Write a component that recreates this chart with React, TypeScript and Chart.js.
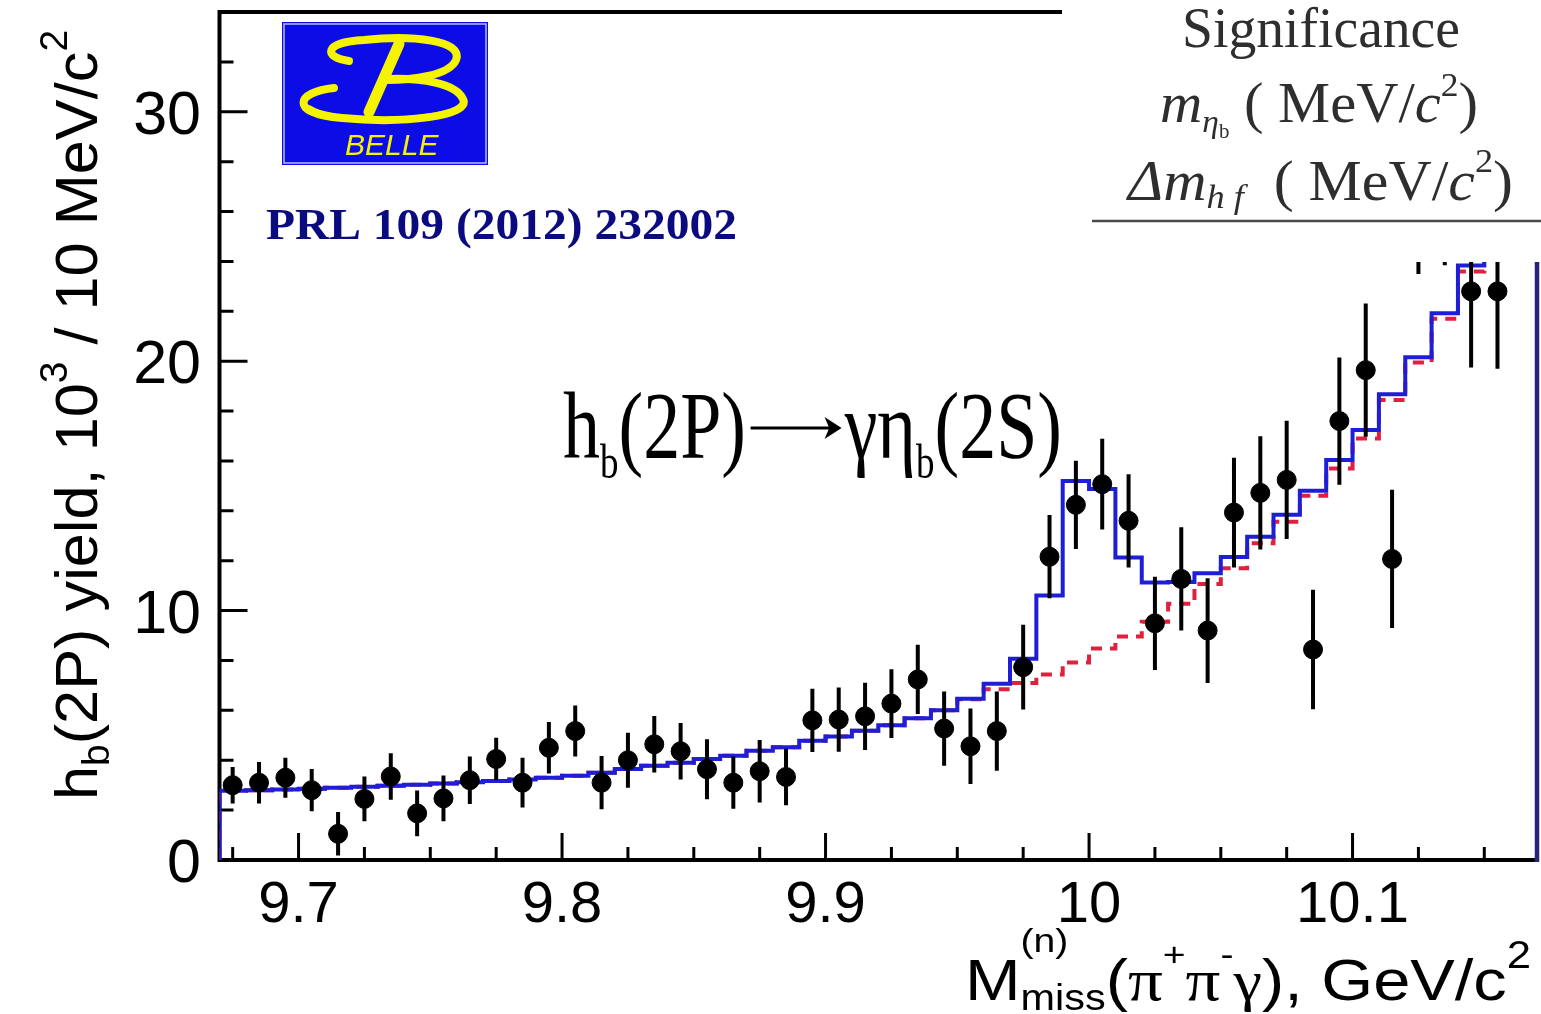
import React, { useEffect, useRef } from "react";
import { Chart, registerables } from "chart.js";

Chart.register(...registerables);

// ---------------- data ----------------
const binCenters = [
  9.675, 9.685, 9.695, 9.705, 9.715, 9.725, 9.735, 9.745, 9.755, 9.765,
  9.775, 9.785, 9.795, 9.805, 9.815, 9.825, 9.835, 9.845, 9.855, 9.865,
  9.875, 9.885, 9.895, 9.905, 9.915, 9.925, 9.935, 9.945, 9.955, 9.965,
  9.975, 9.985, 9.995, 10.005, 10.015, 10.025, 10.035, 10.045, 10.055, 10.065,
  10.075, 10.085, 10.095, 10.105, 10.115, 10.125, 10.135, 10.145, 10.155, 10.165,
];
const binWidth = 0.01;

const fitTotal = [
  2.78, 2.8, 2.83, 2.86, 2.9, 2.94, 2.98, 3.02, 3.07, 3.12,
  3.17, 3.23, 3.3, 3.38, 3.5, 3.65, 3.78, 3.9, 4.05, 4.18,
  4.38, 4.52, 4.78, 4.95, 5.18, 5.4, 5.68, 6.0, 6.47, 7.07,
  8.07, 10.6, 15.2, 14.87, 12.13, 11.13, 11.15, 11.5, 12.15, 12.96,
  13.84, 14.8, 16.04, 17.24, 18.67, 20.16, 21.92, 23.84, 25.6, 27.5,
];

const fitBackground = [
  2.78, 2.8, 2.83, 2.86, 2.9, 2.94, 2.98, 3.02, 3.07, 3.12,
  3.17, 3.23, 3.3, 3.38, 3.5, 3.65, 3.78, 3.9, 4.05, 4.18,
  4.38, 4.52, 4.78, 4.95, 5.18, 5.4, 5.68, 6.0, 6.45, 6.85,
  7.1, 7.44, 7.92, 8.48, 8.96, 9.55, 10.27, 11.07, 11.7, 12.7,
  13.56, 14.6, 15.7, 16.9, 18.44, 19.95, 21.7, 23.6, 25.4, 27.3,
];

const dataBins = [
  9.675, 9.685, 9.695, 9.705, 9.715, 9.725, 9.735, 9.745, 9.755, 9.765,
  9.775, 9.785, 9.795, 9.805, 9.815, 9.825, 9.835, 9.845, 9.855, 9.865,
  9.875, 9.885, 9.895, 9.905, 9.915, 9.925, 9.935, 9.945, 9.955, 9.965,
  9.975, 9.985, 9.995, 10.005, 10.015, 10.025, 10.035, 10.045, 10.055, 10.065,
  10.075, 10.085, 10.095, 10.105, 10.115, 10.125, 10.135, 10.145, 10.155,
];
const dataYield = [
  3.0, 3.1, 3.3, 2.8, 1.05, 2.45, 3.35, 1.87, 2.47, 3.2,
  4.05, 3.1, 4.5, 5.17, 3.1, 4.0, 4.64, 4.36, 3.64, 3.1,
  3.56, 3.33, 5.6, 5.63, 5.76, 6.27, 7.24, 5.27, 4.56, 5.17,
  7.73, 12.16, 14.24, 15.07, 13.6, 9.49, 11.27, 9.2, 13.93, 14.72,
  15.24, 8.44, 17.6, 19.64, 12.07, 26.4, 26.8, 22.8, 22.8,
];
const dataError = [
  0.73, 0.83, 0.8, 0.85, 0.87, 0.9, 0.93, 0.92, 0.92, 0.95,
  0.85, 1.0, 1.03, 1.02, 1.07, 1.1, 1.13, 1.13, 1.2, 1.05,
  1.25, 1.13, 1.27, 1.29, 1.35, 1.38, 1.39, 1.49, 1.51, 1.59,
  1.7, 1.67, 1.77, 1.82, 1.87, 1.87, 2.07, 2.1, 2.2, 2.27,
  2.37, 2.4, 2.55, 2.67, 2.77, 2.9, 2.95, 3.05, 3.1,
];

const xTickValues = [9.7, 9.8, 9.9, 10.0, 10.1];
const xTickLabels = ["9.7", "9.8", "9.9", "10", "10.1"];
const yTickValues = [0, 10, 20, 30];
const yTickLabels = ["0", "10", "20", "30"];
const xMinorStep = 0.025;
const yMinorStep = 2;
const xRange = [9.67, 10.17];
const yRange = [0, 34];

// ---------------- helpers ----------------
const SANS = '"Liberation Sans", Arial, Helvetica, sans-serif';
const SERIF = '"Liberation Serif", "Times New Roman", "DejaVu Serif", serif';

type Seg = {
  t?: string;
  size?: number;
  dy?: number;
  family?: string;
  style?: string;
  weight?: string;
  stack?: Seg[];
  arrow?: number;
};

function segFont(s: Seg) {
  return `${s.style || "normal"} ${s.weight || "normal"} ${s.size || 20}px ${s.family || SANS}`;
}

function segWidth(ctx: CanvasRenderingContext2D, s: Seg): number {
  if (s.arrow) return s.arrow;
  if (s.stack) {
    let m = 0;
    for (const ss of s.stack) m = Math.max(m, segWidth(ctx, ss));
    return m;
  }
  ctx.font = segFont(s);
  return ctx.measureText(s.t || "").width;
}

function drawRich(
  ctx: CanvasRenderingContext2D,
  segs: Seg[],
  x: number,
  y: number,
  align: "left" | "center" | "right",
  fitWidth: number | null,
  color: string
) {
  let w = 0;
  for (const s of segs) w += segWidth(ctx, s);
  const sx = fitWidth ? fitWidth / w : 1;
  const total = w * sx;
  const x0 = align === "left" ? x : align === "center" ? x - total / 2 : x - total;
  ctx.save();
  ctx.translate(x0, y);
  ctx.scale(sx, 1);
  ctx.textAlign = "left";
  ctx.textBaseline = "alphabetic";
  ctx.fillStyle = color;
  ctx.strokeStyle = color;
  let cx = 0;
  for (const s of segs) {
    if (s.arrow) {
      const ay = s.dy || 0;
      const aw = s.arrow;
      ctx.lineWidth = 3.2;
      ctx.beginPath();
      ctx.moveTo(cx + 6, ay);
      ctx.lineTo(cx + aw - 8, ay);
      ctx.stroke();
      ctx.beginPath();
      ctx.moveTo(cx + aw - 4, ay);
      ctx.lineTo(cx + aw - 26, ay - 11);
      ctx.lineTo(cx + aw - 20, ay);
      ctx.lineTo(cx + aw - 26, ay + 11);
      ctx.closePath();
      ctx.fill();
      cx += aw;
    } else if (s.stack) {
      let m = 0;
      for (const ss of s.stack) {
        ctx.font = segFont(ss);
        ctx.fillText(ss.t || "", cx, ss.dy || 0);
        m = Math.max(m, ctx.measureText(ss.t || "").width);
      }
      cx += m;
    } else {
      ctx.font = segFont(s);
      ctx.fillText(s.t || "", cx, s.dy || 0);
      cx += ctx.measureText(s.t || "").width;
    }
  }
  ctx.restore();
}

function histSteps(centers: number[], values: number[]) {
  const pts: { x: number; y: number }[] = [];
  pts.push({ x: centers[0] - binWidth / 2, y: 0 });
  centers.forEach((c, i) => pts.push({ x: c - binWidth / 2, y: values[i] }));
  pts.push({ x: centers[centers.length - 1] + binWidth / 2, y: 0 });
  return pts;
}

function drawLogo(ctx: CanvasRenderingContext2D) {
  ctx.save();
  ctx.fillStyle = "#0c0ce6";
  ctx.fillRect(282, 22, 206, 143);
  ctx.strokeStyle = "#b8bcff";
  ctx.lineWidth = 1.5;
  ctx.strokeRect(284, 24, 202, 139);
  ctx.strokeStyle = "#f4f400";
  ctx.fillStyle = "#f4f400";
  ctx.lineCap = "round";
  ctx.lineJoin = "round";
  // upper bowl
  ctx.lineWidth = 8;
  ctx.beginPath();
  ctx.moveTo(349, 61);
  ctx.bezierCurveTo(324, 58, 322, 42, 364, 40);
  ctx.bezierCurveTo(412, 35, 464, 40, 456, 60);
  ctx.bezierCurveTo(449, 76, 412, 80, 386, 80);
  ctx.stroke();
  // stem
  ctx.lineWidth = 11;
  ctx.beginPath();
  ctx.moveTo(399, 44);
  ctx.lineTo(369, 112);
  ctx.stroke();
  // lower swoosh
  ctx.lineWidth = 8;
  ctx.beginPath();
  ctx.moveTo(334, 88);
  ctx.bezierCurveTo(296, 92, 288, 113, 342, 118);
  ctx.bezierCurveTo(404, 124, 472, 116, 463, 99);
  ctx.bezierCurveTo(456, 83, 420, 78, 390, 79);
  ctx.stroke();
  ctx.lineWidth = 5;
  ctx.beginPath();
  ctx.moveTo(310, 108);
  ctx.bezierCurveTo(330, 121, 400, 124, 450, 112);
  ctx.stroke();
  ctx.font = `italic normal 30px ${SANS}`;
  ctx.textAlign = "left";
  ctx.textBaseline = "alphabetic";
  ctx.fillText("BELLE", 345, 155);
  ctx.restore();
}

const decorPlugin = {
  id: "decor",
  beforeDatasetsDraw(chart: any) {
    const ctx: CanvasRenderingContext2D = chart.ctx;
    const xs = chart.scales.x;
    const ys = chart.scales.y;
    const L = xs.getPixelForValue(xRange[0]);
    const R = xs.getPixelForValue(xRange[1]);
    const T = ys.getPixelForValue(yRange[1]);
    const B = ys.getPixelForValue(yRange[0]);
    ctx.save();
    ctx.strokeStyle = "#000";
    ctx.lineWidth = 4;
    ctx.beginPath();
    ctx.moveTo(L, B);
    ctx.lineTo(L, T);
    ctx.lineTo(R, T);
    ctx.moveTo(L - 2, B);
    ctx.lineTo(R + 2, B);
    ctx.stroke();
    // inward ticks
    ctx.lineWidth = 3;
    ctx.beginPath();
    for (let v = 9.675; v < xRange[1] - 1e-9; v += xMinorStep) {
      const major = xTickValues.some((t) => Math.abs(t - v) < 1e-6);
      const px = xs.getPixelForValue(v);
      ctx.moveTo(px, B);
      ctx.lineTo(px, B - (major ? 27 : 13));
    }
    for (let v = yRange[0] + yMinorStep; v < yRange[1] - 1e-9; v += yMinorStep) {
      const major = yTickValues.some((t) => Math.abs(t - v) < 1e-6);
      const py = ys.getPixelForValue(v);
      ctx.moveTo(L, py);
      ctx.lineTo(L + (major ? 28 : 14), py);
    }
    ctx.stroke();
    ctx.restore();
  },
  afterDatasetsDraw(chart: any) {
    const ctx: CanvasRenderingContext2D = chart.ctx;
    const xs = chart.scales.x;
    const ys = chart.scales.y;
    ctx.save();
    ctx.strokeStyle = "#000";
    ctx.lineWidth = 4;
    ctx.beginPath();
    dataBins.forEach((b, i) => {
      const px = xs.getPixelForValue(b);
      ctx.moveTo(px, ys.getPixelForValue(dataYield[i] - dataError[i]));
      ctx.lineTo(px, ys.getPixelForValue(dataYield[i] + dataError[i]));
    });
    ctx.stroke();
    // white table box covering the top-right corner
    ctx.fillStyle = "#fff";
    ctx.fillRect(1062, 0, chart.width - 1062, 262);
    // right edge
    const R = xs.getPixelForValue(xRange[1]);
    ctx.strokeStyle = "#25257e";
    ctx.lineWidth = 4.5;
    ctx.beginPath();
    ctx.moveTo(R, 262);
    ctx.lineTo(R, ys.getPixelForValue(0) + 2);
    ctx.stroke();
    ctx.restore();
  },
  afterDraw(chart: any) {
    const ctx: CanvasRenderingContext2D = chart.ctx;
    const xs = chart.scales.x;
    const ys = chart.scales.y;
    ctx.save();
    ctx.fillStyle = "#000";
    ctx.font = `58px ${SANS}`;
    ctx.textBaseline = "alphabetic";
    ctx.textAlign = "center";
    xs.ticks.forEach((t: any, i: number) => {
      ctx.fillText(xTickLabels[i], xs.getPixelForValue(t.value), 922);
    });
    ctx.font = `61px ${SANS}`;
    ctx.textAlign = "right";
    ys.ticks.forEach((t: any, i: number) => {
      ctx.fillText(yTickLabels[i], 201, ys.getPixelForValue(t.value) + 22);
    });
    ctx.restore();

    // y title
    ctx.save();
    ctx.translate(97, 415);
    ctx.rotate(-Math.PI / 2);
    drawRich(
      ctx,
      [
        { t: "h", size: 60 },
        { t: "b", size: 38, dy: 12 },
        { t: "(2P) yield, 10", size: 60 },
        { t: "3", size: 38, dy: -30 },
        { t: " / 10 MeV/c", size: 60 },
        { t: "2", size: 38, dy: -30 },
      ],
      0,
      0,
      "center",
      770,
      "#000"
    );
    ctx.restore();

    // x title
    drawRich(
      ctx,
      [
        { t: "M", size: 58 },
        {
          stack: [
            { t: "(n)", size: 34, dy: -48 },
            { t: "miss", size: 36, dy: 10 },
          ],
        },
        { t: "(", size: 58 },
        { t: "\u03c0", size: 60, family: SERIF },
        { t: "+", size: 34, dy: -34 },
        { t: "\u03c0", size: 60, family: SERIF },
        { t: "-", size: 34, dy: -34 },
        { t: "\u03b3", size: 56, family: SERIF },
        { t: "), GeV/c", size: 58 },
        { t: "2", size: 38, dy: -32 },
      ],
      1531,
      1000,
      "right",
      566,
      "#000"
    );

    // reaction label
    drawRich(
      ctx,
      [
        { t: "h", size: 96, family: SERIF },
        { t: "b", size: 48, dy: 20, family: SERIF },
        { t: "(2P)", size: 96, family: SERIF },
        { arrow: 128, dy: -30 },
        { t: "\u03b3\u03b7", size: 96, family: SERIF },
        { t: "b", size: 48, dy: 20, family: SERIF },
        { t: "(2S)", size: 96, family: SERIF },
      ],
      563,
      458,
      "left",
      499,
      "#000"
    );

    // reference
    drawRich(
      ctx,
      [{ t: "PRL 109 (2012) 232002", size: 44, weight: "bold", family: SERIF }],
      266,
      239,
      "left",
      471,
      "#0b0b80"
    );

    // significance table header
    const gray = "#2e2e2e";
    drawRich(ctx, [{ t: "Significance", size: 56, family: SERIF }], 1321, 47, "center", 278, gray);
    drawRich(
      ctx,
      [
        { t: "m", size: 56, family: SERIF, style: "italic" },
        { t: "\u03b7", size: 32, family: SERIF, style: "italic", dy: 10 },
        { t: "b", size: 20, family: SERIF, dy: 16 },
        { t: " ( MeV/", size: 56, family: SERIF },
        { t: "c", size: 56, family: SERIF, style: "italic" },
        { t: "2", size: 34, family: SERIF, dy: -26 },
        { t: ")", size: 56, family: SERIF },
      ],
      1160,
      122,
      "left",
      318,
      gray
    );
    drawRich(
      ctx,
      [
        { t: "\u0394", size: 56, family: SERIF, style: "italic" },
        { t: "m", size: 56, family: SERIF, style: "italic" },
        { t: "h f", size: 34, family: SERIF, style: "italic", dy: 8 },
        { t: "  ( MeV/", size: 56, family: SERIF },
        { t: "c", size: 56, family: SERIF, style: "italic" },
        { t: "2", size: 34, family: SERIF, dy: -28 },
        { t: ")", size: 56, family: SERIF },
      ],
      1128,
      200,
      "left",
      385,
      gray
    );
    ctx.save();
    ctx.strokeStyle = "#4a4a4a";
    ctx.lineWidth = 2.5;
    ctx.beginPath();
    ctx.moveTo(1092, 221);
    ctx.lineTo(chart.width, 221);
    ctx.stroke();
    ctx.restore();

    drawLogo(ctx);
  },
};

export default function App() {
  const ref = useRef<HTMLCanvasElement | null>(null);

  useEffect(() => {
    document.body.style.margin = "0";
    document.body.style.background = "#fff";
    const canvas = ref.current;
    if (!canvas) return;
    const chart = new Chart(canvas, {
      type: "line",
      data: {
        datasets: [
          {
            label: "data",
            data: dataBins.map((x, i) => ({ x, y: dataYield[i] })),
            showLine: false,
            pointRadius: 9.5,
            pointBackgroundColor: "#000",
            pointBorderColor: "#000",
            pointBorderWidth: 1,
            order: 0,
          },
          {
            label: "fit",
            data: histSteps(binCenters, fitTotal),
            stepped: "before",
            borderColor: "#1e1ed8",
            borderWidth: 4,
            pointRadius: 0,
            fill: false,
            order: 1,
          },
          {
            label: "background",
            data: histSteps(binCenters, fitBackground),
            stepped: "before",
            borderColor: "#e0203c",
            borderWidth: 4,
            borderDash: [11, 8],
            pointRadius: 0,
            fill: false,
            order: 2,
          },
        ],
      } as any,
      options: {
        responsive: false,
        animation: false,
        devicePixelRatio: 1,
        layout: { autoPadding: false, padding: { left: 219.5, right: 4, top: 12, bottom: 154 } },
        plugins: { legend: { display: false }, tooltip: { enabled: false } },
        scales: {
          x: {
            type: "linear",
            min: xRange[0],
            max: xRange[1],
            ticks: { display: false },
            grid: { display: false, drawTicks: false },
            border: { display: false },
            afterBuildTicks: (s: any) => {
              s.ticks = xTickValues.map((v) => ({ value: v }));
            },
            afterFit: (s: any) => {
              s.height = 0;
            },
          },
          y: {
            type: "linear",
            min: yRange[0],
            max: yRange[1],
            ticks: { display: false },
            grid: { display: false, drawTicks: false },
            border: { display: false },
            afterBuildTicks: (s: any) => {
              s.ticks = yTickValues.map((v) => ({ value: v }));
            },
            afterFit: (s: any) => {
              s.width = 0;
            },
          },
        },
      } as any,
      plugins: [decorPlugin as any],
    });
    return () => chart.destroy();
  }, []);

  return (
    <div style={{ width: 1541, height: 1014, background: "#fff" }}>
      <canvas ref={ref} width={1541} height={1014} style={{ display: "block" }} />
    </div>
  );
}
